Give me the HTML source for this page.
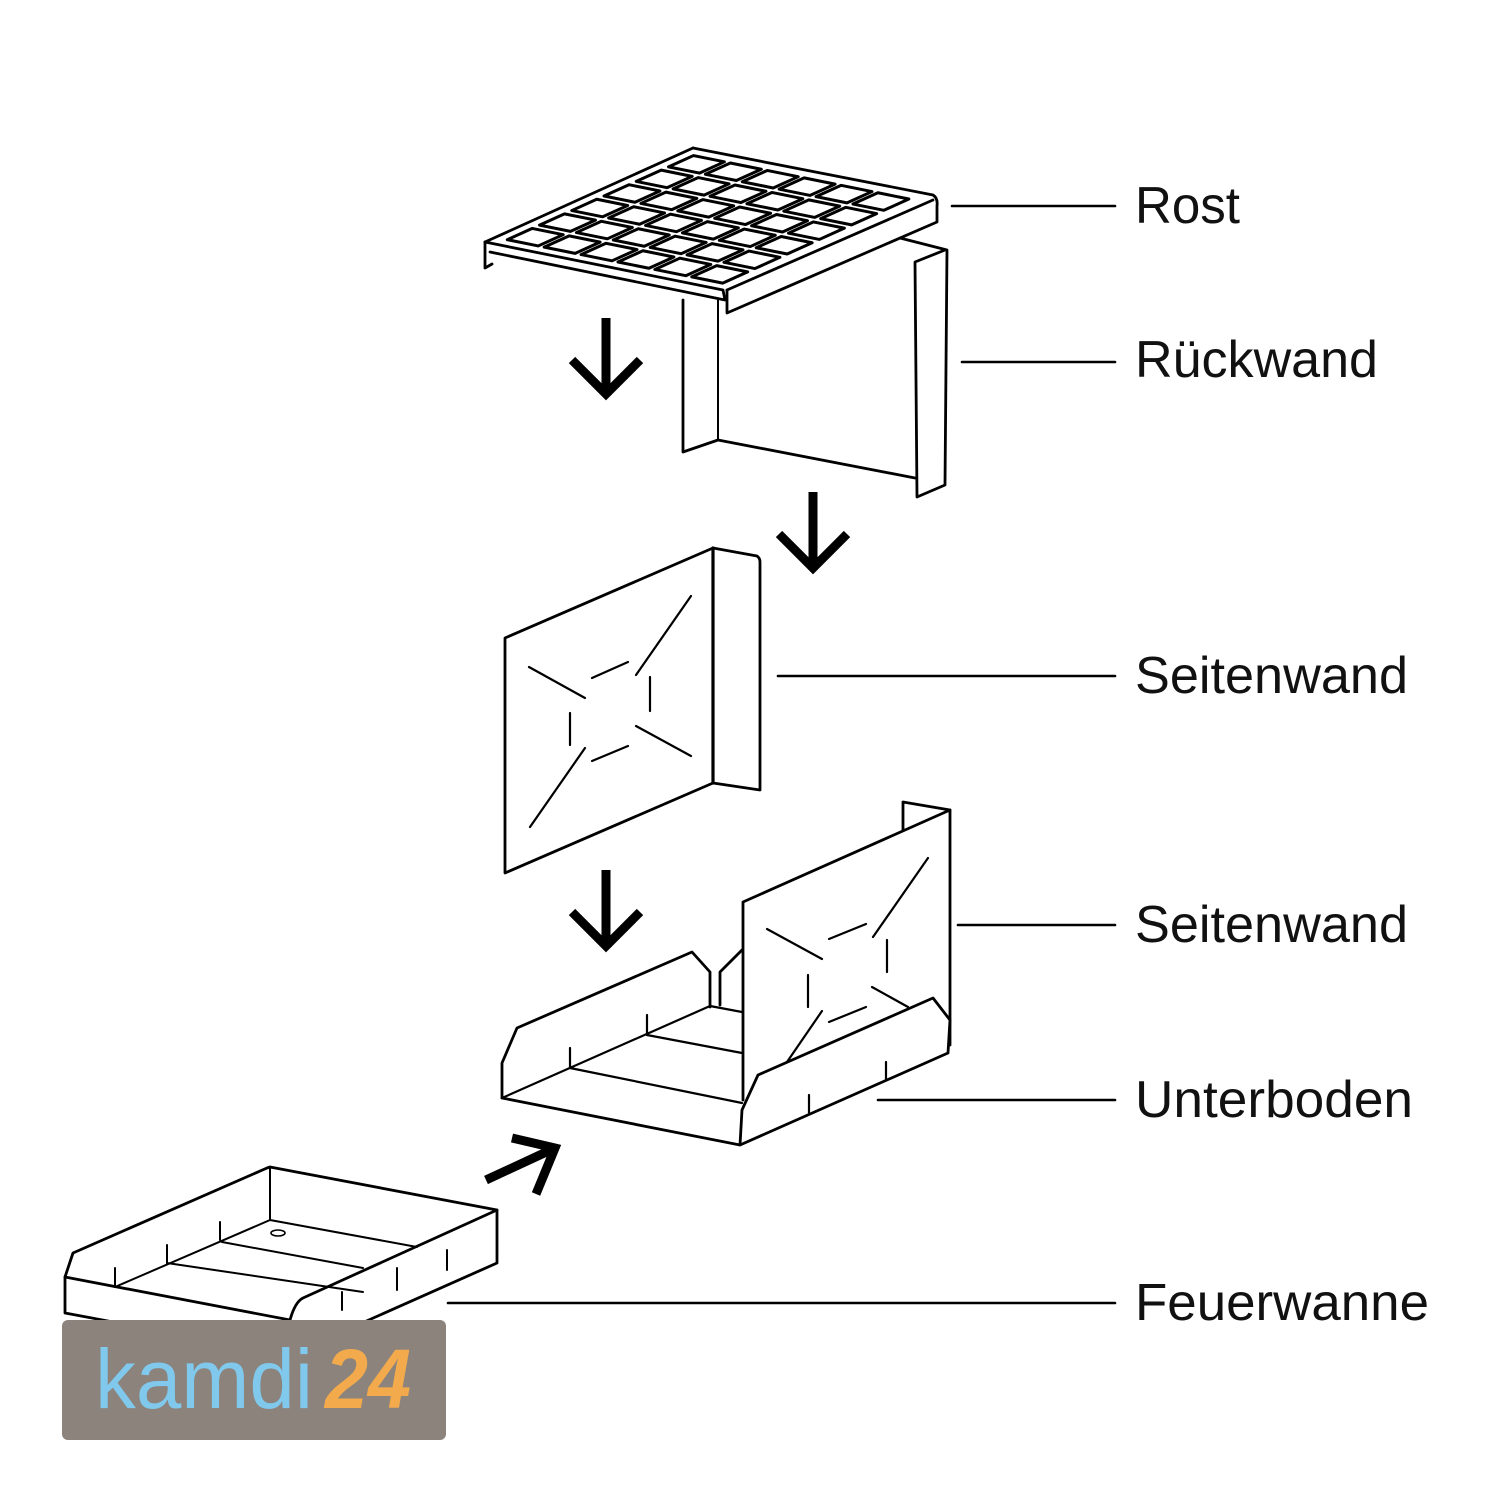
<!DOCTYPE html>
<html><head><meta charset="utf-8"><style>
html,body{margin:0;padding:0;background:#fff}
svg{display:block}
text{font-family:"Liberation Sans",sans-serif;fill:#111}
</style></head><body>
<svg width="1500" height="1500" viewBox="0 0 1500 1500" xmlns="http://www.w3.org/2000/svg">
<defs>
<g id="row">
<rect x="0.05" width="0.13" height="0.12" vector-effect="non-scaling-stroke"/><rect x="0.205" width="0.13" height="0.12" vector-effect="non-scaling-stroke"/><rect x="0.36" width="0.13" height="0.12" vector-effect="non-scaling-stroke"/><rect x="0.515" width="0.13" height="0.12" vector-effect="non-scaling-stroke"/><rect x="0.67" width="0.13" height="0.12" vector-effect="non-scaling-stroke"/><rect x="0.825" width="0.13" height="0.12" vector-effect="non-scaling-stroke"/>
</g>
</defs>
<g fill="none" stroke="#000" stroke-width="2.8" stroke-linejoin="round" stroke-linecap="round">
<!-- Rückwand -->
<path d="M683,300 L683,452 L718,440 L915,478"/>
<path d="M718,300 L718,440" stroke-width="2"/>
<path d="M900,238 L947,250 L945,485 L917,497 L915,262 L945,250"/>
<!-- Rost -->
<path d="M693,148 L933,195 Q938,198 937,206 L937,222 L727,313 L727,290"/>
<path d="M485,242 L693,148"/>
<path d="M485,242 L485,268 L492,264"/>
<path d="M485,242 L723,290 L725,300 L490,252"/>
<path d="M727,290 L933,200"/>
<g transform="matrix(238,48,208,-94,485,242)" stroke-width="3" vector-effect="non-scaling-stroke">
<use href="#row" transform="translate(0,0.05)"/>
<use href="#row" transform="translate(0,0.205)"/>
<use href="#row" transform="translate(0,0.36)"/>
<use href="#row" transform="translate(0,0.515)"/>
<use href="#row" transform="translate(0,0.67)"/>
<use href="#row" transform="translate(0,0.825)"/>
</g>
<!-- Seitenwand middle -->
<path d="M505,638 L713,548 L757,556 Q760,558 760,562 L760,790 L713,783 L505,873 Z"/>
<path d="M713,548 L713,783" stroke-width="3.2"/>
<g stroke-width="2.2">
<path d="M529,667 L585,698 M592,678 L628,662 M636,675 L691,596 M650,677 L650,711 M570,713 L570,745 M585,748 L530,827 M592,761 L628,746 M636,726 L691,756"/>
</g>
<!-- Unterboden side wall -->
<path d="M743,1100 L743,902 L950,810 L950,1045"/>
<path d="M903,830 L903,802 L950,810"/>
<g stroke-width="2.2">
<path d="M767,929 L822,959 M829,939 L866,924 M873,937 L928,858 M887,940 L887,972 M808,975 L808,1007 M822,1011 L787,1062 M829,1022 L866,1007 M872,987 L908,1007"/>
</g>
<!-- Tray -->
<path d="M502,1098 L502,1063 L517,1028 L692,952 L710,972 L710,1007"/>
<path d="M720,1005 L720,972 L742,950"/>
<path d="M502,1098 L740,1145 L948,1053 L950,1020 L933,998 L758,1075 L742,1110 L740,1145"/>
<path d="M502,1098 L710,1006 L742,1012" stroke-width="2.2"/>
<path d="M570,1068 L742,1103 M647,1035 L742,1053" stroke-width="2.2"/>
<path d="M647,1015 L647,1035 M570,1048 L570,1068 M886,1062 L886,1080 M809,1095 L809,1113" stroke-width="2.2"/>
<!-- Feuerwanne -->
<path d="M65,1313 L65,1277 L73,1253 L267,1168 L270,1167 L497,1210 L497,1263 L290,1355 L65,1313"/>
<path d="M65,1277 L290,1320 L290,1355"/>
<path d="M290,1320 Q295,1302 303,1298 L497,1210"/>
<path d="M270,1167 L270,1220 M115,1287 L270,1220 L417,1247 M167,1263 L363,1292 M222,1242 L363,1268" stroke-width="2"/>
<path d="M115,1268 L115,1287 M167,1245 L167,1263 M220,1222 L220,1240 M447,1250 L447,1270 M397,1268 L397,1290 M342,1292 L342,1310" stroke-width="2"/>
<ellipse cx="278" cy="1233" rx="7" ry="3" stroke-width="1.6"/>
<!-- leader lines -->
<path d="M952,206 H1115 M962,362 H1115 M778,676 H1115 M958,925 H1115 M878,1100 H1115 M448,1303 H1115" stroke-width="2.6"/>
</g>
<!-- arrows -->
<g fill="none" stroke="#000" stroke-width="9">
<path d="M606,318 V392 M572,360 L606,394 L640,360"/>
<path d="M813,492 V568 M779,534 L813,568 L847,534"/>
<path d="M606,870 V946 M572,912 L606,946 L640,912"/>
<path d="M486,1180 L555,1148 M512,1138 L555,1148 L536,1194"/>
</g>
<!-- logo -->
<rect x="62" y="1320" width="384" height="120" rx="6" fill="#8b837c"/>
<text x="95" y="1408" font-size="84" style="fill:#80c8ec" textLength="218" lengthAdjust="spacingAndGlyphs">kamdi</text>
<text x="325" y="1408" font-size="84" font-weight="bold" font-style="italic" style="fill:#f2aa4c" textLength="86" lengthAdjust="spacingAndGlyphs">24</text>
<!-- labels -->
<text x="1135" y="223" font-size="52" textLength="105" lengthAdjust="spacingAndGlyphs">Rost</text>
<text x="1135" y="377" font-size="52" textLength="243" lengthAdjust="spacingAndGlyphs">Rückwand</text>
<text x="1135" y="693" font-size="52" textLength="273" lengthAdjust="spacingAndGlyphs">Seitenwand</text>
<text x="1135" y="942" font-size="52" textLength="273" lengthAdjust="spacingAndGlyphs">Seitenwand</text>
<text x="1135" y="1117" font-size="52" textLength="278" lengthAdjust="spacingAndGlyphs">Unterboden</text>
<text x="1135" y="1320" font-size="52" textLength="294" lengthAdjust="spacingAndGlyphs">Feuerwanne</text>
</svg>
</body></html>
